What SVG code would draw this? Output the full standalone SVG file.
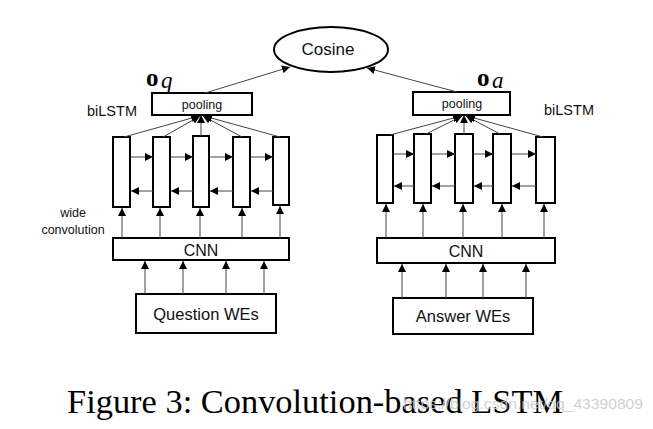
<svg xmlns="http://www.w3.org/2000/svg" width="653" height="429" viewBox="0 0 653 429">
<style>
.box{fill:#fff;stroke:#000;stroke-width:2}
.ln{stroke:#444;stroke-width:1;fill:none;marker-end:url(#ah)}
.lbl{font-family:"Liberation Sans",Arial,sans-serif;fill:#111}
.math{font-family:"Liberation Serif","Times New Roman",serif;fill:#000}
</style>
<defs>
<marker id="ah" markerUnits="userSpaceOnUse" markerWidth="9" markerHeight="8" refX="8" refY="4" orient="auto">
<path d="M0,0 L8,4 L0,8 Z" fill="#000"/>
</marker>
</defs>
<rect width="653" height="429" fill="#fff"/>

<g id="cosine">
<ellipse class="box" cx="331" cy="49.5" rx="57" ry="22.5"/>
<text class="lbl" x="328" y="55" font-size="17" text-anchor="middle">Cosine</text>
</g>

<!-- left side -->
<g id="oq"><text class="math" x="146" y="86" font-size="25" font-weight="bold">o</text><text class="math" x="161" y="88" font-size="23" font-style="italic">q</text></g>
<g id="biLSTM-q"><text class="lbl" x="87" y="116" font-size="14.5">biLSTM</text></g>
<g id="pooling-q"><rect class="box" x="152" y="93" width="100" height="22"/><text class="lbl" x="202" y="108.5" font-size="12.5" text-anchor="middle">pooling</text></g>
<g id="lstm-q1"><rect class="box" x="113" y="137" width="17" height="70"/></g>
<g id="lstm-q2"><rect class="box" x="153" y="137" width="17" height="70"/></g>
<g id="lstm-q3"><rect class="box" x="193" y="136" width="16" height="71"/></g>
<g id="lstm-q4"><rect class="box" x="233" y="137" width="17" height="70"/></g>
<g id="lstm-q5"><rect class="box" x="273" y="137" width="16" height="68"/></g>
<g id="cnn-q"><rect class="box" x="113" y="238" width="176" height="22"/><text class="lbl" x="201" y="255.5" font-size="16" text-anchor="middle">CNN</text></g>
<g id="question"><rect class="box" x="136" y="294" width="140" height="39"/><text class="lbl" x="206" y="320" font-size="16.5" text-anchor="middle">Question WEs</text></g>
<g id="wideconv"><text class="lbl" x="73" y="217" font-size="12.5" text-anchor="middle">wide</text><text class="lbl" x="73" y="234" font-size="12.5" text-anchor="middle">convolution</text></g>

<!-- right side -->
<g id="oa"><text class="math" x="477" y="86" font-size="25" font-weight="bold">o</text><text class="math" x="492" y="88" font-size="23" font-style="italic">a</text></g>
<g id="biLSTM-a"><text class="lbl" x="544" y="115" font-size="14.5">biLSTM</text></g>
<g id="pooling-a"><rect class="box" x="413" y="92" width="97" height="23"/><text class="lbl" x="462" y="108" font-size="12.5" text-anchor="middle">pooling</text></g>
<g id="lstm-a1"><rect class="box" x="377" y="135" width="16" height="68"/></g>
<g id="lstm-a2"><rect class="box" x="414" y="134" width="17" height="69"/></g>
<g id="lstm-a3"><rect class="box" x="455" y="134" width="18" height="69"/></g>
<g id="lstm-a4"><rect class="box" x="493" y="134" width="18" height="69"/></g>
<g id="lstm-a5"><rect class="box" x="536" y="137" width="19" height="66"/></g>
<g id="cnn-a"><rect class="box" x="377" y="238" width="178" height="25"/><text class="lbl" x="466" y="256.5" font-size="16" text-anchor="middle">CNN</text></g>
<g id="answer"><rect class="box" x="393" y="298" width="140" height="36"/><text class="lbl" x="463" y="322" font-size="16.5" text-anchor="middle">Answer WEs</text></g>

<g id="connectors">
<!-- pooling to cosine -->
<line class="ln" x1="205" y1="93" x2="290" y2="67"/>
<line class="ln" x1="457" y1="92" x2="367" y2="68"/>
<!-- left lstm to pooling -->
<line class="ln" x1="124" y1="137" x2="199" y2="116"/>
<line class="ln" x1="163" y1="137" x2="200" y2="116"/>
<line class="ln" x1="201" y1="136" x2="201" y2="115"/>
<line class="ln" x1="242" y1="137" x2="203" y2="116"/>
<line class="ln" x1="280" y1="137" x2="204" y2="116"/>
<!-- left forward -->
<line class="ln" x1="131" y1="157" x2="153" y2="157"/>
<line class="ln" x1="171" y1="157" x2="193" y2="157"/>
<line class="ln" x1="210" y1="157" x2="233" y2="157"/>
<line class="ln" x1="251" y1="157" x2="273" y2="157"/>
<!-- left backward -->
<line class="ln" x1="153" y1="191" x2="131" y2="191"/>
<line class="ln" x1="193" y1="191" x2="171" y2="191"/>
<line class="ln" x1="233" y1="191" x2="210" y2="191"/>
<line class="ln" x1="273" y1="191" x2="251" y2="191"/>
<!-- left cnn to lstm -->
<line class="ln" x1="122" y1="238" x2="122" y2="208"/>
<line class="ln" x1="160" y1="238" x2="160" y2="208"/>
<line class="ln" x1="200" y1="238" x2="200" y2="208"/>
<line class="ln" x1="242" y1="238" x2="242" y2="208"/>
<line class="ln" x1="280" y1="238" x2="280" y2="206"/>
<!-- left WEs to cnn -->
<line class="ln" x1="145" y1="294" x2="145" y2="261"/>
<line class="ln" x1="183" y1="294" x2="183" y2="261"/>
<line class="ln" x1="226" y1="294" x2="226" y2="261"/>
<line class="ln" x1="264" y1="294" x2="264" y2="261"/>
<!-- right lstm to pooling -->
<line class="ln" x1="390" y1="135" x2="461" y2="116"/>
<line class="ln" x1="426" y1="134" x2="462" y2="116"/>
<line class="ln" x1="464" y1="134" x2="464" y2="115"/>
<line class="ln" x1="500" y1="134" x2="466" y2="116"/>
<line class="ln" x1="543" y1="137" x2="467" y2="116"/>
<!-- right forward -->
<line class="ln" x1="394" y1="154" x2="414" y2="154"/>
<line class="ln" x1="432" y1="154" x2="455" y2="154"/>
<line class="ln" x1="474" y1="154" x2="493" y2="154"/>
<line class="ln" x1="512" y1="154" x2="536" y2="154"/>
<!-- right backward -->
<line class="ln" x1="414" y1="186" x2="394" y2="186"/>
<line class="ln" x1="455" y1="186" x2="432" y2="186"/>
<line class="ln" x1="493" y1="186" x2="474" y2="186"/>
<line class="ln" x1="536" y1="186" x2="512" y2="186"/>
<!-- right cnn to lstm -->
<line class="ln" x1="386" y1="238" x2="386" y2="204"/>
<line class="ln" x1="423" y1="238" x2="423" y2="204"/>
<line class="ln" x1="463" y1="238" x2="463" y2="204"/>
<line class="ln" x1="502" y1="238" x2="502" y2="204"/>
<line class="ln" x1="544" y1="238" x2="544" y2="204"/>
<!-- right WEs to cnn -->
<line class="ln" x1="402" y1="298" x2="402" y2="264"/>
<line class="ln" x1="446" y1="298" x2="446" y2="264"/>
<line class="ln" x1="483" y1="298" x2="483" y2="264"/>
<line class="ln" x1="526" y1="298" x2="526" y2="264"/>
</g>

<text class="math" x="67" y="413" font-size="34" textLength="496" lengthAdjust="spacingAndGlyphs">Figure 3: Convolution-based LSTM</text>
<text x="403" y="409" font-family="Liberation Sans,Arial,sans-serif" font-size="15" fill="#c8c8c8" fill-opacity="0.85" textLength="240" lengthAdjust="spacingAndGlyphs">https://blog.csdn.net/qq_43390809</text>
</svg>
